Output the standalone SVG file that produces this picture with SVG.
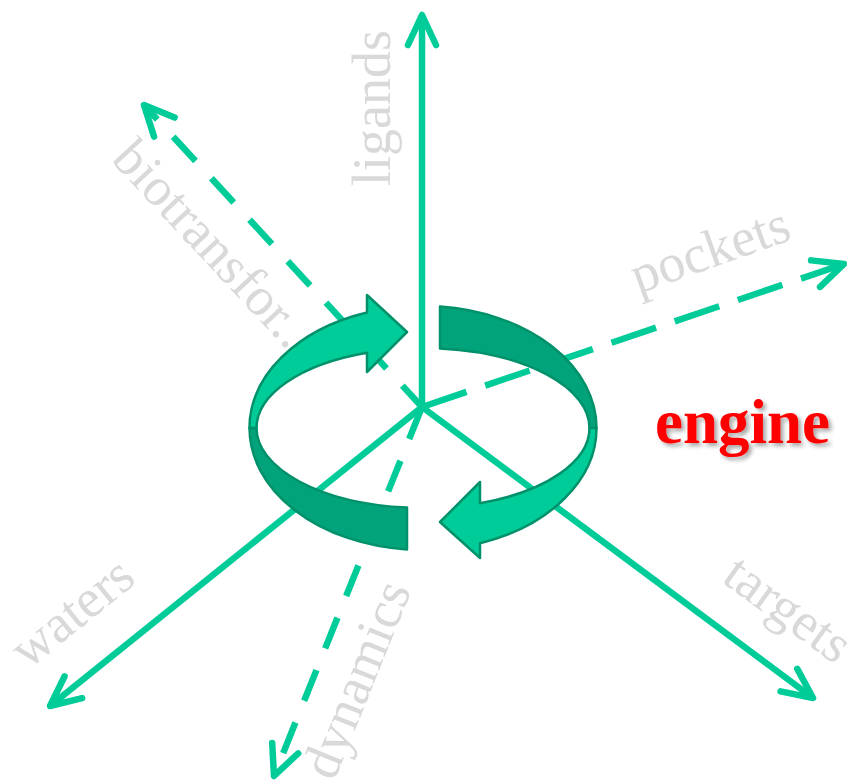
<svg xmlns="http://www.w3.org/2000/svg" width="847" height="780" viewBox="0 0 847 780">
<style>
.axis{fill:none;stroke:#00CC99;stroke-width:6.5;marker-end:url(#chev)}
.dash1{stroke-dasharray:33 23.4;stroke-dashoffset:4}
.dash2{stroke-dasharray:33 23.4;stroke-dashoffset:-1.5}
.dash3{stroke-dasharray:47 19.7}
.lbl{font-family:"Liberation Serif","Times New Roman",serif;font-size:54px;fill:#D9D9D9}
.light{fill:#00CC99;stroke:#00916B;stroke-width:2.5;stroke-linejoin:round}
.dark{fill:#00A37A;stroke:#00916B;stroke-width:2.5;stroke-linejoin:round}
.eng{font-family:"Liberation Serif","Times New Roman",serif;font-size:63px;font-weight:bold;fill:#FF0000}
</style>
<defs>
<marker id="chev" markerUnits="userSpaceOnUse" orient="auto" markerWidth="60" markerHeight="60" refX="0" refY="0" viewBox="-40 -30 60 60" overflow="visible">
<path d="M-30,-14 L0,0 L-30,14" fill="none" stroke="#00CC99" stroke-width="6.5" stroke-linecap="round" stroke-linejoin="round"/>
</marker>
<filter id="shadow" x="-10%" y="-20%" width="130%" height="150%">
<feDropShadow dx="3" dy="3" stdDeviation="2" flood-color="#000" flood-opacity="0.35"/>
</filter>
</defs>
<rect width="847" height="780" fill="#FFFFFF"/>
<g id="label-ligands"><text class="lbl" transform="translate(390,186) rotate(-90)">ligands</text></g>
<g id="label-biotransformations"><text class="lbl" transform="translate(110,160) rotate(47)">biotransfor...</text></g>
<g id="label-pockets"><text class="lbl" transform="translate(638,294) rotate(-19.5)">pockets</text></g>
<g id="label-waters"><text class="lbl" transform="translate(28,670) rotate(-38.7)">waters</text></g>
<g id="label-dynamics"><text class="lbl" transform="translate(334,782) rotate(-68)">dynamics</text></g>
<g id="label-targets"><text class="lbl" transform="translate(720,581) rotate(36)">targets</text></g>
<g id="connectors">
<path class="axis" d="M422,407 L422,15"/>
<path class="axis dash1" d="M422,407 L144,105"/>
<path class="axis dash3" d="M422,407 L844,264"/>
<path class="axis" d="M422,407 L50,706"/>
<path class="axis dash2" d="M422,407 L274,776"/>
<path class="axis" d="M422,407 L813,698"/>
</g>
<g id="cycle-arrows">
<path class="dark" d="M249.5,428 A173.5,122 0 0 0 407,549.5 L407,507.6 A166.5,80 0 0 1 256.5,428 Z"/>
<path class="light" d="M249.5,428 A173.5,122 0 0 1 367,312.5 L367,295 L407,332 L367,372 L367,352.7 A166.5,80 0 0 0 256.5,428 Z"/>
<path class="dark" d="M440,306.6 A173.5,122 0 0 1 596.5,428 L589.5,428 A166.5,80 0 0 0 440,348.4 Z"/>
<path class="light" d="M596.5,428 A173.5,122 0 0 1 480,543.2 L480,558 L440,522 L480,482 L480,503.2 A166.5,80 0 0 0 589.5,428 Z"/>
</g>
<g id="engine"><text class="eng" x="655" y="443" filter="url(#shadow)">engine</text></g>
</svg>
